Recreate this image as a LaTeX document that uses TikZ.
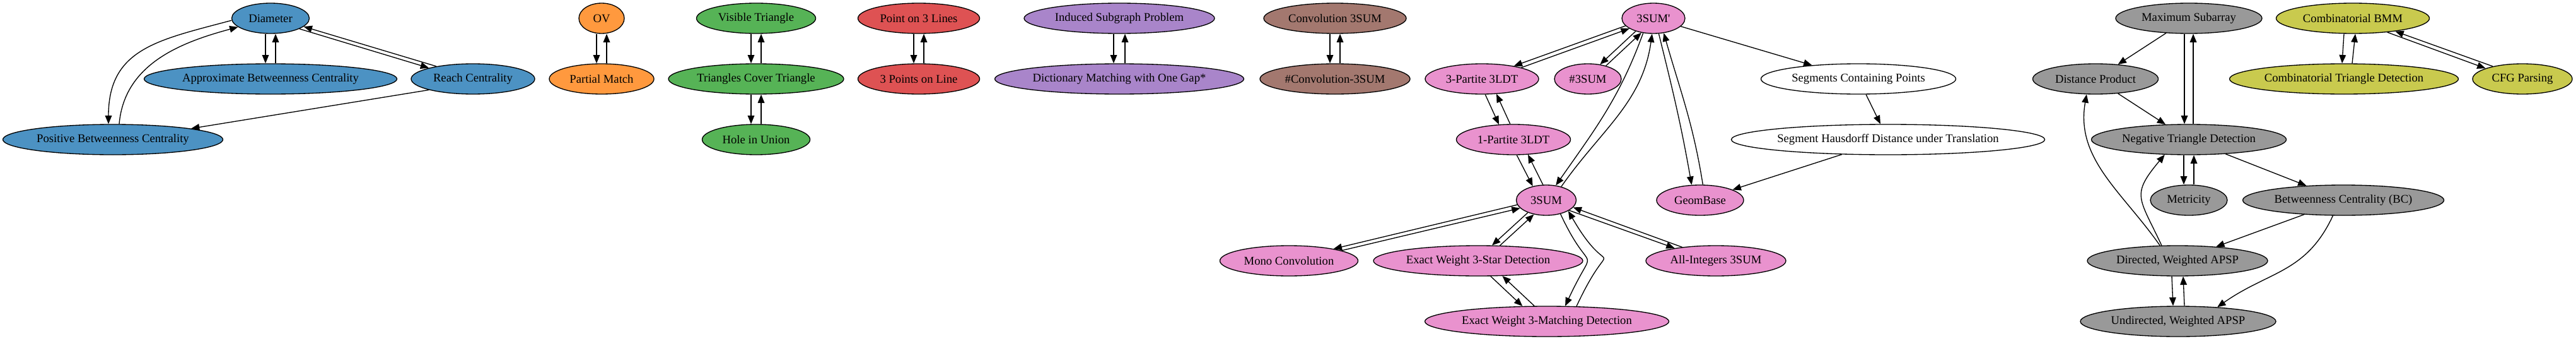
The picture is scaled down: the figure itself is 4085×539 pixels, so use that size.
\documentclass[tikz,border=0pt]{standalone}
\usepackage{fontspec}
\setmainfont{Liberation Serif}
\usetikzlibrary{arrows.meta,shapes.geometric}
\newdimen\pxu \pxu=0.75pt
\definecolor{cblue}{HTML}{4C92C3}
\definecolor{corange}{HTML}{FF993E}
\definecolor{cgreen}{HTML}{56B356}
\definecolor{cred}{HTML}{DE5253}
\definecolor{cpurple}{HTML}{A985CA}
\definecolor{cbrown}{HTML}{A3786F}
\definecolor{cpink}{HTML}{E992CE}
\definecolor{cgray}{HTML}{999999}
\definecolor{colive}{HTML}{C9CA4E}
\tikzset{
  nd/.style={ellipse, draw=black, line width=1pt, minimum height=36pt, inner sep=0pt,
             font=\fontsize{14}{16}\selectfont},
  wd/.style={minimum width=#1*0.75pt},
  edg/.style={-{Triangle[length=10pt,width=8pt]}, line width=1pt, draw=black}
}
\begin{document}
\begin{tikzpicture}[x=0.75pt, y=-0.75pt]
\useasboundingbox (0,0) rectangle (4085,539);
% blue
\node[nd, fill=cblue, wd=123] (D) at (429,29) {Diameter};
\node[nd, fill=cblue, wd=401] (ABC) at (429,125) {Approximate Betweenness Centrality};
\node[nd, fill=cblue, wd=196] (RC) at (750,125) {Reach Centrality};
\node[nd, fill=cblue, wd=349] (PBC) at (179,221) {Positive Betweenness Centrality};
% orange
\node[nd, fill=corange, wd=72] (OV) at (954,29) {OV};
\node[nd, fill=corange, wd=166] (PM) at (954,125) {Partial Match};
% green
\node[nd, fill=cgreen, wd=189] (VT) at (1199,29) {Visible Triangle};
\node[nd, fill=cgreen, wd=278] (TCT) at (1199,125) {Triangles Cover Triangle};
\node[nd, fill=cgreen, wd=171] (HU) at (1199,221) {Hole in Union};
% red
\node[nd, fill=cred, wd=193] (P3L) at (1457,29) {Point on 3 Lines};
\node[nd, fill=cred, wd=193] (TPL) at (1457,125) {3 Points on Line};
% purple
\node[nd, fill=cpurple, wd=302] (ISP) at (1775,29) {Induced Subgraph Problem};
\node[nd, fill=cpurple, wd=395] (DM) at (1775,125) {Dictionary Matching with One Gap*};
% brown
\node[nd, fill=cbrown, wd=226] (C3) at (2117,29) {Convolution 3SUM};
\node[nd, fill=cbrown, wd=238] (NC3) at (2117,125) {\#Convolution-3SUM};
% pink
\node[nd, fill=cpink, wd=100] (S3p) at (2622,29) {3SUM\textquotesingle};
\node[nd, fill=cpink, wd=180] (P3) at (2350,125) {3-Partite 3LDT};
\node[nd, fill=cpink, wd=106] (N3) at (2518,125) {\#3SUM};
\node[nd, fill=white, wd=309] (SCP) at (2947,125) {Segments Containing Points};
\node[nd, fill=white, wd=495] (SH) at (2994,221) {Segment Hausdorff Distance under Translation};
\node[nd, fill=cpink, wd=181] (P1) at (2400,221) {1-Partite 3LDT};
\node[nd, fill=cpink, wd=95] (S3) at (2452,317) {3SUM};
\node[nd, fill=cpink, wd=138] (GB) at (2696,317) {GeomBase};
\node[nd, fill=cpink, wd=219] (MC) at (2044,413) {Mono Convolution};
\node[nd, fill=cpink, wd=332] (EWS) at (2344,413) {Exact Weight 3-Star Detection};
\node[nd, fill=cpink, wd=222] (AI) at (2721,413) {All-Integers 3SUM};
\node[nd, fill=cpink, wd=387] (EWM) at (2453,509) {Exact Weight 3-Matching Detection};
% gray
\node[nd, fill=cgray, wd=232] (MS) at (3471,29) {Maximum Subarray};
\node[nd, fill=cgray, wd=199] (DP) at (3323,125) {Distance Product};
\node[nd, fill=cgray, wd=309] (NTD) at (3471,221) {Negative Triangle Detection};
\node[nd, fill=cgray, wd=122] (MET) at (3471,317) {Metricity};
\node[nd, fill=cgray, wd=319] (BC) at (3716,317) {Betweenness Centrality (BC)};
\node[nd, fill=cgray, wd=286] (DA) at (3453,413) {Directed, Weighted APSP};
\node[nd, fill=cgray, wd=310] (UA) at (3454,509) {Undirected, Weighted APSP};
% olive
\node[nd, fill=colive, wd=243] (CB) at (3731,29) {Combinatorial BMM};
\node[nd, fill=colive, wd=363] (CTD) at (3717,125) {Combinatorial Triangle Detection};
\node[nd, fill=colive, wd=158] (CFG) at (4000,125) {CFG Parsing};

% ---- edges: blue
\draw[edg] ([xshift=-8\pxu]D.south) -- ([xshift=-8\pxu]ABC.north);
\draw[edg] ([xshift=8\pxu]ABC.north) -- ([xshift=8\pxu]D.south);
\draw[edg] (D.340) -- (RC.166);
\draw[edg] (RC.161) -- (D.346);
\draw[edg] (D.183) to[out=195,in=90,looseness=1.2] ([xshift=-7\pxu]PBC.north);
\draw[edg] ([xshift=10\pxu]PBC.north) to[out=85,in=195] (D.195);
\draw[edg] (RC.194) -- (PBC.8);
% vertical pairs
\draw[edg] ([xshift=-8\pxu]OV.south) -- ([xshift=-8\pxu]PM.north);
\draw[edg] ([xshift=8\pxu]PM.north) -- ([xshift=8\pxu]OV.south);
\draw[edg] ([xshift=-8\pxu]VT.south) -- ([xshift=-8\pxu]TCT.north);
\draw[edg] ([xshift=8\pxu]TCT.north) -- ([xshift=8\pxu]VT.south);
\draw[edg] ([xshift=-8\pxu]TCT.south) -- ([xshift=-8\pxu]HU.north);
\draw[edg] ([xshift=8\pxu]HU.north) -- ([xshift=8\pxu]TCT.south);
\draw[edg] ([xshift=-8\pxu]P3L.south) -- ([xshift=-8\pxu]TPL.north);
\draw[edg] ([xshift=8\pxu]TPL.north) -- ([xshift=8\pxu]P3L.south);
\draw[edg] ([xshift=-9\pxu]ISP.south) -- ([xshift=-9\pxu]DM.north);
\draw[edg] ([xshift=9\pxu]DM.north) -- ([xshift=9\pxu]ISP.south);
\draw[edg] ([xshift=-8\pxu]C3.south) -- ([xshift=-8\pxu]NC3.north);
\draw[edg] ([xshift=8\pxu]NC3.north) -- ([xshift=8\pxu]C3.south);
% ---- pink
\draw[edg] (S3p.195) -- (P3.22);
\draw[edg] (P3.16) -- (S3p.203);
\draw[edg] (S3p.216) -- (N3.50);
\draw[edg] (N3.36) -- (S3p.230);
\draw[edg] (S3p.235) to[out=250,in=55] (S3.57);
\draw[edg] (S3.42) to[out=55,in=262] (S3p.265);
\draw[edg] (S3p.289) to[out=284,in=100] (GB.119);
\draw[edg] (GB.80) to[out=99,in=286] (S3p.305);
\draw[edg] (S3p) -- (SCP);
\draw[edg] (SCP) -- (SH);
\draw[edg] (SH) -- (GB);
\draw[edg] (P3.282) -- (P1.134);
\draw[edg] (P1.102) -- (P3.314);
\draw[edg] (P1.282) -- (S3.134);
\draw[edg] (S3.102) -- (P1.314);
\draw[edg] (S3.189) -- (MC.15);
\draw[edg] (MC.11) -- (S3.197);
\draw[edg] (S3.214) -- (EWS.48);
\draw[edg] (EWS.35) -- (S3.229);
\draw[edg] (S3.336) -- (AI.163);
\draw[edg] (AI.158) -- (S3.345);
\draw[edg] (S3.316) to[out=295,in=65,looseness=2.1] (EWM.40);
\draw[edg] (EWM.27) to[out=65,in=300,looseness=2.4] (S3.334);
\draw[edg] (EWS.309) -- (EWM.148);
\draw[edg] (EWM.129) -- (EWS.328);
% ---- gray
\draw[edg] (MS) -- (DP);
\draw[edg] ([xshift=-7\pxu]MS.south) -- ([xshift=-7\pxu]NTD.north);
\draw[edg] ([xshift=7\pxu]NTD.north) -- ([xshift=7\pxu]MS.south);
\draw[edg] (DP) -- (NTD);
\draw[edg] (DA.139) to[out=125,in=260] (DP.240);
\draw[edg] (DA.136) to[out=115,in=230,looseness=1.5] (NTD.212);
\draw[edg] ([xshift=-8\pxu]NTD.south) -- ([xshift=-8\pxu]MET.north);
\draw[edg] ([xshift=8\pxu]MET.north) -- ([xshift=8\pxu]NTD.south);
\draw[edg] (NTD) -- (BC);
\draw[edg] (BC) -- (DA);
\draw[edg] (BC.236) to[out=245,in=35,looseness=1.1] (UA.20);
\draw[edg] ([xshift=-9\pxu]DA.south) -- ([xshift=-8\pxu]UA.north);
\draw[edg] ([xshift=10\pxu]UA.north) -- ([xshift=9\pxu]DA.south);
% ---- olive
\draw[edg] ([xshift=-14\pxu]CB.south) -- ([xshift=-3\pxu]CTD.north);
\draw[edg] ([xshift=13\pxu]CTD.north) -- ([xshift=4\pxu]CB.south);
\draw[edg] (CB.338) -- (CFG.164);
\draw[edg] (CFG.157) -- (CB.343);
\end{tikzpicture}
\end{document}
